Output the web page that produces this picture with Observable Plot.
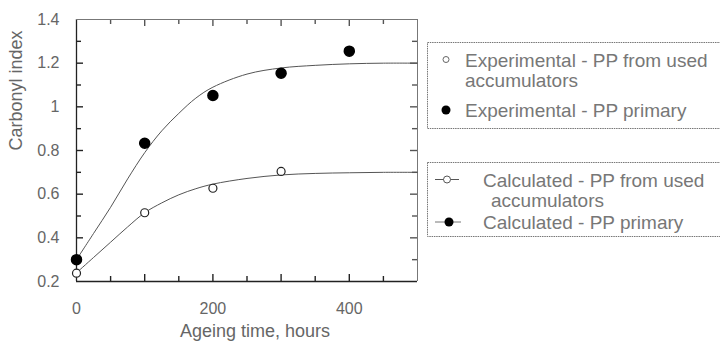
<!DOCTYPE html>
<html>
<head>
<meta charset="utf-8">
<script src="https://cdn.jsdelivr.net/npm/d3@7"></script>
<script src="https://cdn.jsdelivr.net/npm/@observablehq/plot@0.6"></script>
<style>
  html, body { margin: 0; padding: 0; background: #fff; }
  #wrap { position: relative; width: 720px; height: 343px; overflow: hidden; }
  #legend { position: absolute; left: 0; top: 0; pointer-events: none; }
</style>
</head>
<body>
<div id="wrap"></div>
<script>
// ---- Data ----
const expUsedHours = [0, 100, 200, 300];
const expUsedValues = [0.238, 0.515, 0.627, 0.704];

const expPrimaryHours = [0, 100, 200, 300, 400];
const expPrimaryValues = [0.30, 0.833, 1.052, 1.154, 1.255];

const calcHours = [0, 25, 50, 75, 100, 125, 150, 175, 200, 250, 300, 350, 400, 450, 500];
const calcUsedValues = [0.24, 0.31, 0.38, 0.45, 0.515, 0.56, 0.597, 0.625, 0.646, 0.672, 0.688, 0.695, 0.698, 0.70, 0.70];
const calcPrimaryValues = [0.30, 0.42, 0.54, 0.67, 0.79, 0.89, 0.97, 1.04, 1.09, 1.15, 1.178, 1.19, 1.197, 1.20, 1.20];

const xLabelTicks = [0, 200, 400];
const xMajorTicks = [100, 200, 300, 400];
const xMinorTicks = [50, 150, 250, 350, 450];
const yLabelTicks = [0.2, 0.4, 0.6, 0.8, 1, 1.2, 1.4];
const yMajorTicks = [0.4, 0.6, 0.8, 1, 1.2];
const yMinorTicks = [0.3, 0.5, 0.7, 0.9, 1.1, 1.3];

const xTitle = "Ageing time, hours";
const yTitle = "Carbonyl index";

const legendItems = [
  ["Experimental - PP from used", "accumulators"],
  ["Experimental - PP primary"],
  ["Calculated - PP from used", "accumulators"],
  ["Calculated - PP primary"]
];

// ---- Tables ----
const expUsed = expUsedHours.map((h, i) => ({h, v: expUsedValues[i]}));
const expPrimary = expPrimaryHours.map((h, i) => ({h, v: expPrimaryValues[i]}));
const calcUsed = calcHours.map((h, i) => ({h, v: calcUsedValues[i]}));
const calcPrimary = calcHours.map((h, i) => ({h, v: calcPrimaryValues[i]}));

const FONT = "'Liberation Sans', Arial, Helvetica, sans-serif";
const AX = "#222";
const W = 720, H = 343, ML = 76, MR = 303, MT = 19, MB = 62;
const FW = W - ML - MR, FH = H - MT - MB;

function inTicksX(data, len, where, stroke) {
  const o = {x: d => d, stroke, strokeWidth: 1.4};
  if (where === "bottom") o.insetTop = FH - len; else o.insetBottom = FH - len;
  return Plot.tickX(data, o);
}
function inTicksY(data, len, where, stroke) {
  const o = {y: d => d, stroke, strokeWidth: 1.4};
  if (where === "left") o.insetRight = FW - len; else o.insetLeft = FW - len;
  return Plot.tickY(data, o);
}

const chart = Plot.plot({
  width: W,
  height: H,
  marginLeft: ML,
  marginRight: MR,
  marginTop: MT,
  marginBottom: MB,
  x: {domain: [0, 500]},
  y: {domain: [0.2, 1.4]},
  style: {fontFamily: FONT, background: "#fff", color: "#333"},
  marks: [
    // inward ticks
    inTicksX(xMajorTicks, 7, "bottom", AX),
    inTicksX(xMinorTicks, 5, "bottom", AX),
    inTicksX(xMajorTicks, 7, "top", "#555"),
    inTicksX(xMinorTicks, 5, "top", "#555"),
    inTicksY(yMajorTicks, 7, "left", AX),
    inTicksY(yMinorTicks, 5, "left", AX),
    inTicksY(yMajorTicks, 7, "right", "#555"),
    inTicksY(yMinorTicks, 5, "right", "#555"),
    // tick labels
    Plot.axisX(xLabelTicks, {anchor: "bottom", tickSize: 0, tickPadding: 21, fontSize: 16, fill: "#666", label: null}),
    Plot.axisY(yLabelTicks, {anchor: "left", tickSize: 0, tickPadding: 17, fontSize: 16, fill: "#666", label: null, tickFormat: d => String(d)}),
    // frame
    Plot.ruleX([0], {stroke: AX, strokeWidth: 1.3}),
    Plot.ruleY([0.2], {stroke: AX, strokeWidth: 1.3}),
    Plot.ruleX([500], {stroke: "#777"}),
    Plot.ruleY([1.4], {stroke: "#777"}),
    // calculated curves
    Plot.line(calcPrimary, {x: "h", y: "v", stroke: "#555", strokeWidth: 1, curve: "catmull-rom"}),
    Plot.line(calcUsed, {x: "h", y: "v", stroke: "#555", strokeWidth: 1, curve: "catmull-rom"}),
    // experimental points
    Plot.dot(expPrimary, {x: "h", y: "v", r: 5, fill: "#000", stroke: "#000"}),
    Plot.dot(expUsed, {x: "h", y: "v", r: 4, fill: "#fff", stroke: "#222", strokeWidth: 1.2}),
    // axis titles
    Plot.text([yTitle], {frameAnchor: "left", rotate: -90, dx: -60, fontSize: 18, fill: "#666"}),
    Plot.text([xTitle], {frameAnchor: "bottom", dy: 55, dx: 8, fontSize: 18, fill: "#666"})
  ]
});

const wrap = document.getElementById("wrap");
wrap.appendChild(chart);

// ---- Legend overlay ----
const svg = d3.select(wrap).append("svg")
  .attr("id", "legend")
  .attr("width", 720).attr("height", 343)
  .style("font-family", FONT);

const boxStroke = "#777";
svg.append("rect").attr("x", 427.5).attr("y", 42.5).attr("width", 320).attr("height", 86)
  .attr("fill", "none").attr("stroke", boxStroke).attr("stroke-dasharray", "1.5 0.8");
svg.append("rect").attr("x", 427.5).attr("y", 162.5).attr("width", 320).attr("height", 74)
  .attr("fill", "none").attr("stroke", boxStroke).attr("stroke-dasharray", "1.5 0.8");

const tFill = "#777";
const fs = 19;
function txt(x, y, s) {
  svg.append("text").attr("x", x).attr("y", y).attr("font-size", fs).attr("fill", tFill).text(s);
}
// box 1
svg.append("circle").attr("cx", 446).attr("cy", 59.5).attr("r", 3).attr("fill", "#fff").attr("stroke", "#666");
txt(465, 66.5, legendItems[0][0]);
txt(465, 87, legendItems[0][1]);
svg.append("circle").attr("cx", 446).attr("cy", 110).attr("r", 4.5).attr("fill", "#000");
txt(465, 117, legendItems[1][0]);
// box 2
svg.append("line").attr("x1", 435).attr("x2", 459).attr("y1", 179.5).attr("y2", 179.5).attr("stroke", "#555");
svg.append("circle").attr("cx", 447).attr("cy", 179.5).attr("r", 3.5).attr("fill", "#fff").attr("stroke", "#555");
txt(483, 186.5, legendItems[2][0]);
txt(491, 206.5, legendItems[2][1]);
svg.append("line").attr("x1", 435).attr("x2", 461).attr("y1", 222).attr("y2", 222).attr("stroke", "#777");
svg.append("circle").attr("cx", 449).attr("cy", 222).attr("r", 4.5).attr("fill", "#000");
txt(483, 229, legendItems[3][0]);
</script>
</body>
</html>
